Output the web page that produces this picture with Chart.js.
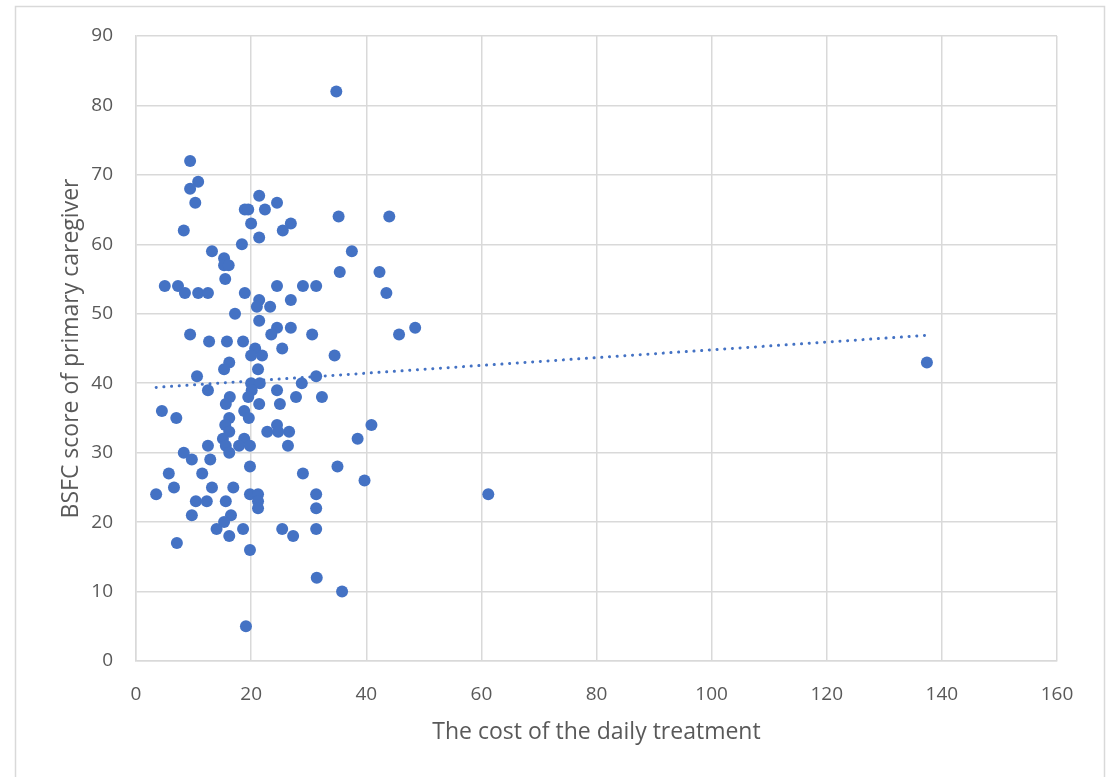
<!DOCTYPE html>
<html>
<head>
<meta charset="utf-8">
<script src="https://cdn.jsdelivr.net/npm/chart.js@4.4.1/dist/chart.umd.min.js"></script>
<style>
  html, body { margin: 0; padding: 0; background: #ffffff; }
  #wrap { width: 1116px; height: 777px; position: relative; }
</style>
</head>
<body>
<div id="wrap"><canvas id="c" width="1116" height="777"></canvas></div>
<script>
// Daily treatment cost (x) and BSFC score of primary caregiver (y)
const costValues = [
  34.8, 9.4, 10.8, 9.4, 10.3, 8.3, 21.4, 18.9, 19.5, 22.4,
  24.5, 20.0, 26.9, 25.5, 21.4, 18.4, 13.2, 15.3, 15.3, 16.1,
  15.5, 35.2, 44.0, 37.5, 35.4, 42.3, 43.5, 5.0, 7.3, 8.5,
  10.8, 12.5, 18.9, 24.5, 29.0, 31.3, 21.4, 26.9, 21.0, 23.3,
  17.2, 21.4, 24.5, 26.9, 23.5, 30.6, 45.7, 48.5, 9.4, 12.7,
  15.8, 18.6, 20.7, 20.0, 21.9, 25.4, 34.5, 16.2, 15.3, 21.2,
  10.6, 31.3, 20.0, 21.5, 28.8, 12.5, 20.1, 24.5, 16.3, 19.5,
  27.8, 32.3, 15.6, 21.4, 25.0, 4.5, 7.0, 18.8, 19.6, 16.2,
  15.5, 16.2, 22.8, 24.5, 24.7, 26.6, 40.9, 15.1, 15.6, 18.8,
  17.9, 19.8, 12.5, 26.4, 38.5, 16.2, 8.3, 9.7, 12.9, 19.8,
  35.0, 29.0, 5.7, 11.5, 39.7, 6.6, 13.2, 16.9, 3.5, 19.8,
  21.2, 31.3, 61.2, 10.4, 12.3, 15.6, 21.2, 21.2, 31.3, 9.7,
  16.5, 15.3, 14.0, 18.6, 25.4, 31.3, 16.2, 27.3, 7.1, 19.8,
  31.4, 35.8, 19.1, 137.4
];
const bsfcValues = [
  82, 72, 69, 68, 66, 62, 67, 65, 65, 65,
  66, 63, 63, 62, 61, 60, 59, 58, 57, 57,
  55, 64, 64, 59, 56, 56, 53, 54, 54, 53,
  53, 53, 53, 54, 54, 54, 52, 52, 51, 51,
  50, 49, 48, 48, 47, 47, 47, 48, 47, 46,
  46, 46, 45, 44, 44, 45, 44, 43, 42, 42,
  41, 41, 40, 40, 40, 39, 39, 39, 38, 38,
  38, 38, 37, 37, 37, 36, 35, 36, 35, 35,
  34, 33, 33, 34, 33, 33, 34, 32, 31, 32,
  31, 31, 31, 31, 32, 30, 30, 29, 29, 28,
  28, 27, 27, 27, 26, 25, 25, 25, 24, 24,
  24, 24, 24, 23, 23, 23, 23, 22, 22, 21,
  21, 20, 19, 19, 19, 19, 18, 18, 17, 16,
  12, 10, 5, 43
];
// Linear trendline end points
const trendX = [3.5, 137.4];
const trendY = [39.4, 46.9];
// Axis tick settings
const xTicks = { min: 0, max: 160, step: 20 };
const yTicks = { min: 0, max: 90, step: 10 };
const xTitle = 'The cost of the daily treatment';
const yTitle = 'BSFC score of primary caregiver';

const points = costValues.map((x, i) => ({ x: x, y: bsfcValues[i] }));
const trend = trendX.map((x, i) => ({ x: x, y: trendY[i] }));

const FONT = "'Open Sans', 'Noto Sans', sans-serif";
const TXT = '#595959';
const GRID = '#d9d9d9';

const outerBorder = {
  id: 'outerBorder',
  beforeDraw(chart) {
    const ctx = chart.ctx;
    ctx.save();
    ctx.fillStyle = '#ffffff';
    ctx.fillRect(0, 0, chart.width, chart.height);
    ctx.strokeStyle = '#d9d9d9';
    ctx.lineWidth = 1.5;
    ctx.beginPath();
    ctx.moveTo(15.5, 790);
    ctx.lineTo(15.5, 6.5);
    ctx.lineTo(1104.5, 6.5);
    ctx.lineTo(1104.5, 790);
    ctx.stroke();
    ctx.restore();
  }
};

new Chart(document.getElementById('c'), {
  type: 'scatter',
  data: {
    datasets: [
      {
        label: 'BSFC',
        data: points,
        backgroundColor: '#4472C4',
        borderColor: '#4472C4',
        borderWidth: 0,
        pointRadius: 6,
        pointHoverRadius: 6,
        order: 1
      },
      {
        label: 'Trend',
        data: trend,
        showLine: true,
        borderColor: '#4472C4',
        borderWidth: 3,
        borderDash: [0.1, 7.6],
        borderCapStyle: 'round',
        pointRadius: 0,
        fill: false,
        order: 2
      }
    ]
  },
  options: {
    responsive: false,
    animation: false,
    devicePixelRatio: 1,
    layout: { padding: { left: 0, top: 36, right: 59, bottom: 0 } },
    plugins: {
      legend: { display: false },
      tooltip: { enabled: false }
    },
    scales: {
      x: {
        type: 'linear',
        min: xTicks.min,
        max: xTicks.max,
        afterFit(scale) { scale.height = 116; },
        ticks: {
          stepSize: xTicks.step,
          color: TXT,
          font: { family: FONT, size: 19 },
          padding: 22,
          maxRotation: 0
        },
        grid: { color: GRID, lineWidth: 1.5, drawTicks: false },
        border: { color: GRID, width: 1.5 },
        title: {
          display: true,
          text: xTitle,
          color: TXT,
          font: { family: FONT, size: 23 },
          padding: { top: 0, bottom: 31 }
        }
      },
      y: {
        type: 'linear',
        min: yTicks.min,
        max: yTicks.max,
        afterFit(scale) { scale.width = 136; },
        ticks: {
          stepSize: yTicks.step,
          color: TXT,
          font: { family: FONT, size: 19 },
          padding: 23
        },
        grid: { color: GRID, lineWidth: 1.5, drawTicks: false },
        border: { color: GRID, width: 1.5 },
        title: {
          display: true,
          text: yTitle,
          color: TXT,
          font: { family: FONT, size: 23 },
          padding: { top: 58, bottom: 0 }
        }
      }
    }
  },
  plugins: [outerBorder]
});
</script>
</body>
</html>
